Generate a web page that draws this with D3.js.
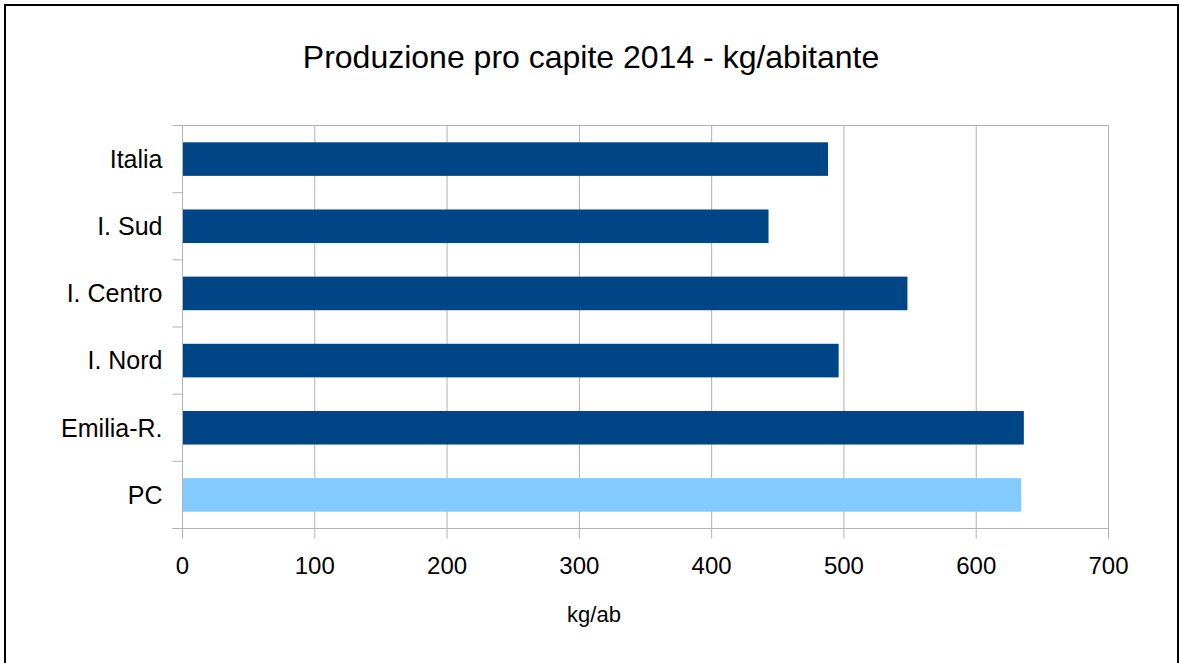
<!DOCTYPE html>
<html>
<head>
<meta charset="utf-8">
<script src="https://cdn.jsdelivr.net/npm/d3@7"></script>
<style>
  body { margin: 0; background: #fff; }
  text { font-family: "Liberation Sans", Arial, sans-serif; fill: #000; }
</style>
</head>
<body>
<script>
// Data
const categories = ['Italia', 'I. Sud', 'I. Centro', 'I. Nord', 'Emilia-R.', 'PC'];
const values = [488, 443, 548, 496, 636, 634];
const highlight = ['PC'];
const xTicks = [0, 100, 200, 300, 400, 500, 600, 700];

// Canvas
const width = 1179;
const height = 663;
const margin = { top: 125.5, right: 70.5, bottom: 134.5, left: 182.5 };
const innerW = width - margin.left - margin.right;
const innerH = height - margin.top - margin.bottom;

const svg = d3
  .select('body')
  .append('svg')
  .attr('width', width)
  .attr('height', height);

// Outer frame
svg
  .append('rect')
  .attr('x', 5)
  .attr('y', 5)
  .attr('width', 1173)
  .attr('height', 700)
  .attr('fill', 'none')
  .attr('stroke', '#000')
  .attr('stroke-width', 2);

// Title
svg
  .append('text')
  .attr('x', 591)
  .attr('y', 68)
  .attr('text-anchor', 'middle')
  .style('font-size', '32px')
  .text('Produzione pro capite 2014 - kg/abitante');

const g = svg
  .append('g')
  .attr('transform', `translate(${margin.left}, ${margin.top})`);

// Scales
const x = d3.scaleLinear().domain([0, 700]).range([0, innerW]);
const y = d3
  .scaleBand()
  .domain(categories)
  .range([0, innerH])
  .paddingInner(0.5)
  .paddingOuter(0.25);

const gridColor = '#b3b3b3';

// Vertical gridlines
g.append('g')
  .selectAll('line')
  .data(xTicks)
  .enter()
  .append('line')
  .attr('x1', (d) => x(d))
  .attr('x2', (d) => x(d))
  .attr('y1', 0)
  .attr('y2', innerH + 10)
  .attr('stroke', gridColor);

// Plot area outline (top)
g.append('line')
  .attr('x1', 0)
  .attr('x2', innerW)
  .attr('y1', 0)
  .attr('y2', 0)
  .attr('stroke', gridColor);

// Bars
g.append('g')
  .selectAll('rect')
  .data(categories)
  .enter()
  .append('rect')
  .attr('x', x(0))
  .attr('y', (d) => y(d))
  .attr('height', y.bandwidth())
  .attr('width', (d, i) => x(values[i]) - x(0))
  .attr('fill', (d) => (highlight.includes(d) ? '#83caff' : '#004586'));

// Y axis: ticks at band boundaries
const step = y.step();
const bounds = d3.range(categories.length + 1).map((i) => i * step);
g.append('g')
  .selectAll('line')
  .data(bounds)
  .enter()
  .append('line')
  .attr('x1', -10)
  .attr('x2', 0)
  .attr('y1', (d) => d)
  .attr('y2', (d) => d)
  .attr('stroke', gridColor);

g.append('line')
  .attr('x1', 0)
  .attr('x2', 0)
  .attr('y1', 0)
  .attr('y2', innerH)
  .attr('stroke', gridColor);

// X axis line
g.append('line')
  .attr('x1', -10)
  .attr('x2', innerW)
  .attr('y1', innerH)
  .attr('y2', innerH)
  .attr('stroke', gridColor);

// Category labels
g.append('g')
  .selectAll('text')
  .data(categories)
  .enter()
  .append('text')
  .attr('x', -20)
  .attr('y', (d) => y(d) + y.bandwidth() / 2)
  .attr('dy', '0.35em')
  .attr('text-anchor', 'end')
  .style('font-size', '25px')
  .text((d) => d);

// X tick labels
g.append('g')
  .selectAll('text')
  .data(xTicks)
  .enter()
  .append('text')
  .attr('x', (d) => x(d))
  .attr('y', innerH + 45)
  .attr('text-anchor', 'middle')
  .style('font-size', '24px')
  .text((d) => d);

// Axis title
svg
  .append('text')
  .attr('x', 594)
  .attr('y', 622)
  .attr('text-anchor', 'middle')
  .style('font-size', '22px')
  .text('kg/ab');
</script>
</body>
</html>
